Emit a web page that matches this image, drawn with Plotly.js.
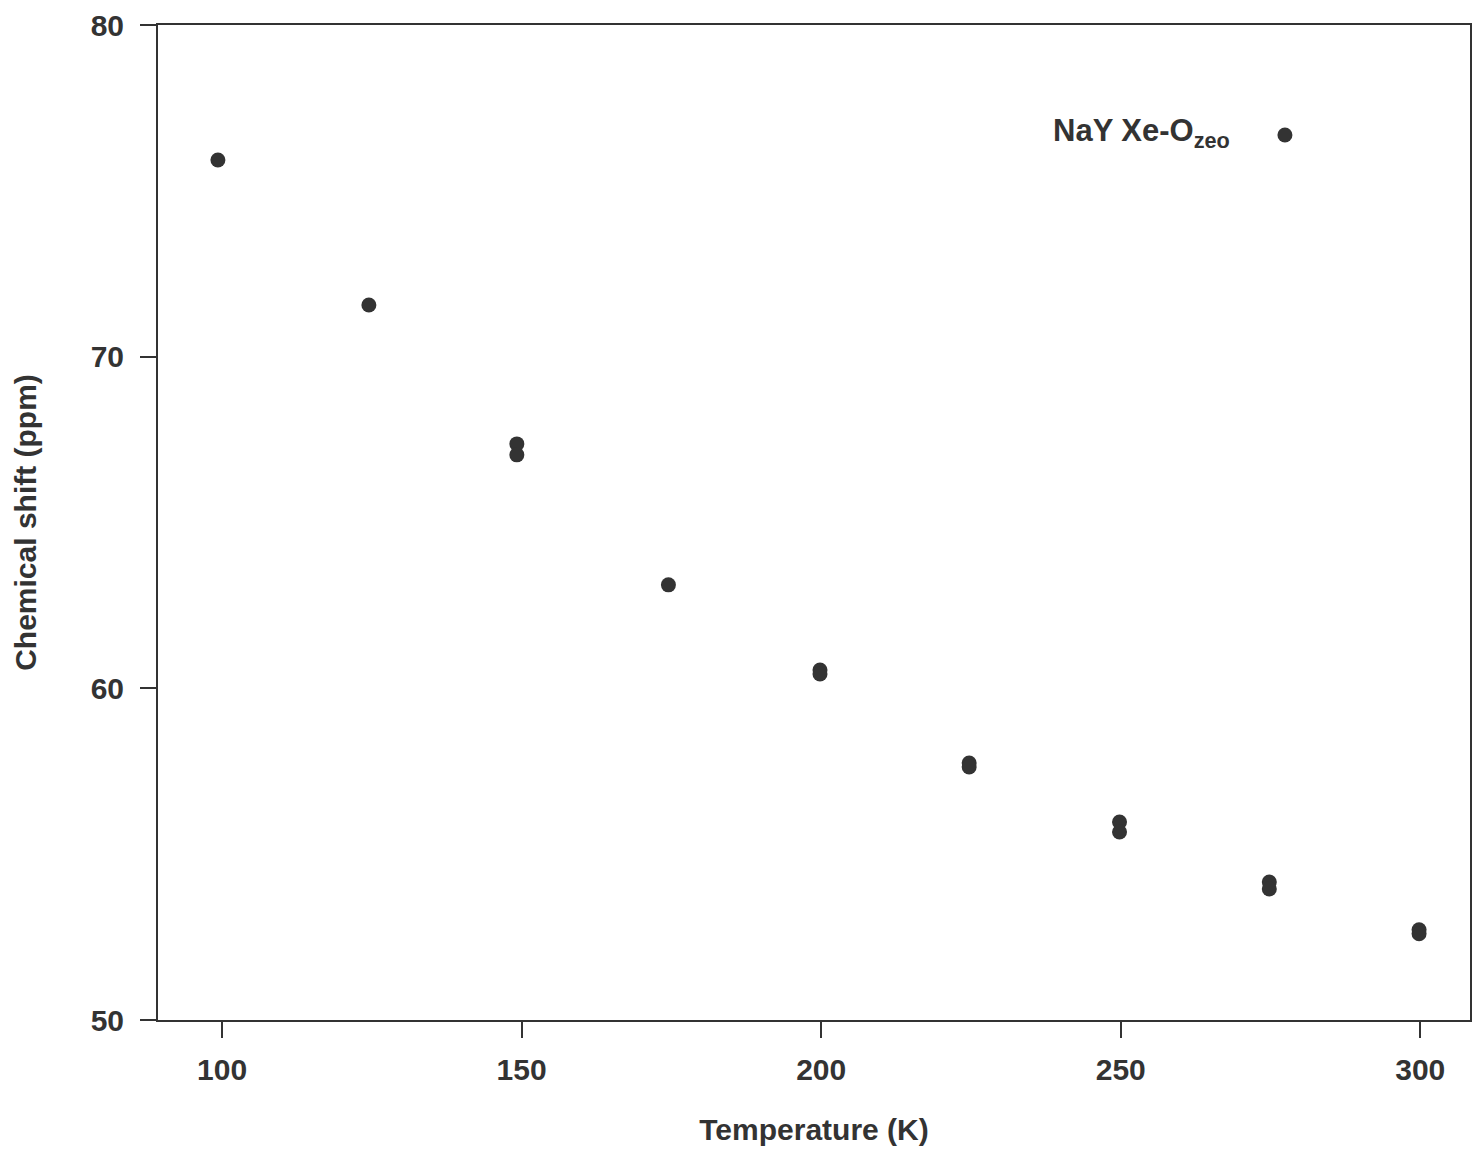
<!DOCTYPE html>
<html>
<head>
<meta charset="utf-8">
<script src="https://cdn.plot.ly/plotly-3.0.1.min.js"></script>
<style>html,body{margin:0;padding:0;background:#fff;}#chart{width:1472px;height:1149px;}</style>
</head>
<body>
<div id="chart"></div>
<script>
var temperature = [99.3, 124.5, 149.2, 149.2, 174.5, 199.8, 199.8, 224.7, 224.7, 249.8, 249.8, 274.8, 274.8, 299.8, 299.8];
var shift = [75.93, 71.56, 67.37, 67.04, 63.12, 60.55, 60.43, 57.75, 57.63, 55.97, 55.67, 54.16, 53.95, 52.72, 52.60];
var seriesName = "<b>NaY Xe-O<sub>zeo</sub></b>";
var xTicks = [100, 150, 200, 250, 300];
var yTicks = [50, 60, 70, 80];

var fontFam = "Liberation Sans, Arial, sans-serif";
var trace = {
  x: temperature, y: shift, mode: "markers", type: "scatter", name: " ",
  marker: {size: 15, color: "#333333"}, showlegend: true
};
var layout = {
  width: 1472, height: 1149,
  margin: {l: 158, r: 2, t: 25, b: 129},
  paper_bgcolor: "#fff", plot_bgcolor: "#fff",
  showlegend: true,
  legend: {
    x: 0.8437, y: 0.8895, xanchor: "left", yanchor: "middle",
    bgcolor: "rgba(0,0,0,0)",
    font: {family: fontFam, size: 10, color: "#333"},
    itemwidth: 30
  },
  annotations: [{
    xref: "paper", yref: "paper", x: 0.8186, y: 0.8915,
    xanchor: "right", yanchor: "middle", showarrow: false,
    text: seriesName, font: {family: fontFam, size: 31, color: "#333"}
  }],
  xaxis: {
    range: [89.3, 308.3], tickvals: xTicks, ticktext: xTicks.map(String),
    ticks: "outside", ticklen: 16, tickwidth: 2, tickcolor: "#333",
    showline: true, linecolor: "#333", linewidth: 2, mirror: true,
    showgrid: false, zeroline: false, ticklabelstandoff: 6,
    tickfont: {family: fontFam, size: 30, color: "#333", weight: "bold"},
    title: {text: "Temperature (K)", font: {family: fontFam, size: 30, color: "#333", weight: "bold"}, standoff: 34}
  },
  yaxis: {
    range: [50, 80], tickvals: yTicks, ticktext: yTicks.map(String),
    ticks: "outside", ticklen: 16, tickwidth: 2, tickcolor: "#333",
    showline: true, linecolor: "#333", linewidth: 2, mirror: true,
    showgrid: false, zeroline: false, ticklabelstandoff: 10,
    tickfont: {family: fontFam, size: 30, color: "#333", weight: "bold"},
    title: {text: "Chemical shift (ppm)", font: {family: fontFam, size: 30, color: "#333", weight: "bold"}, standoff: 45}
  }
};
Plotly.newPlot("chart", [trace], layout, {displayModeBar: false, staticPlot: true});
</script>
</body>
</html>
